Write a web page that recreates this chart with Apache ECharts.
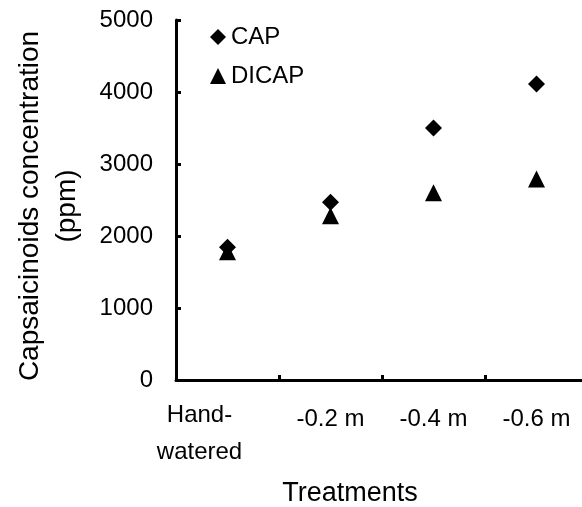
<!DOCTYPE html>
<html><head><meta charset="utf-8">
<script src="https://cdn.jsdelivr.net/npm/echarts@6/dist/echarts.min.js"></script>
<style>html,body{margin:0;padding:0;background:#fff}#c{width:582px;height:507px}</style>
</head><body><div id="c"></div>
<script>
var categories = ['Hand-\nwatered', '-0.2 m', '-0.4 m', '-0.6 m'];
var capValues = [1845, 2470, 3500, 4110];
var dicapValues = [1780, 2280, 2600, 2790];
var yTicks = [0, 1000, 2000, 3000, 4000, 5000];

var FONT = '"Liberation Sans", Arial, sans-serif';
var chart = echarts.init(document.getElementById('c'), null, {renderer: 'canvas'});
chart.setOption({
  animation: false,
  backgroundColor: '#fff',
  textStyle: {fontFamily: FONT, color: '#000'},
  grid: {left: 176, top: 20, width: 412, bottom: 127, containLabel: false, outerBoundsMode: 'none'},
  legend: {
    orient: 'vertical', left: 205, top: 20,
    itemWidth: 16, itemHeight: 16, itemGap: 15,
    textStyle: {fontFamily: FONT, fontSize: 24, color: '#000'},
    data: [{name: 'CAP', icon: 'diamond'}, {name: 'DICAP', icon: 'triangle'}]
  },
  xAxis: {
    type: 'category', data: categories, boundaryGap: true,
    name: 'Treatments', nameLocation: 'middle', nameGap: 100,
    nameTextStyle: {fontFamily: FONT, fontSize: 27, color: '#000', padding: [0, 64, 0, 0]},
    axisLine: {lineStyle: {color: '#000', width: 3}},
    axisTick: {show: true, inside: true, length: 5, lineStyle: {color: '#000', width: 3}},
    axisLabel: {
      interval: 0, margin: 17, color: '#000', fontFamily: FONT, fontSize: 24,
      formatter: function (v) { return v.indexOf('\n') >= 0 ? '{a|' + v.replace('\n', '}\n{a|') + '}' : '{b|' + v + '}'; },
      rich: {
        a: {fontFamily: FONT, fontSize: 24, color: '#000', lineHeight: 37, padding: [0, 56, 0, 0]},
        b: {fontFamily: FONT, fontSize: 24, color: '#000', lineHeight: 37, padding: [8, 0, 0, 0]}
      }
    },
    splitLine: {show: false}
  },
  yAxis: {
    type: 'value', min: yTicks[0], max: yTicks[yTicks.length - 1], interval: 1000,
    name: 'Capsaicinoids concentration\n(ppm)', nameLocation: 'middle', nameRotate: 90, nameGap: 90,
    nameTextStyle: {fontFamily: FONT, fontSize: 28, color: '#000', lineHeight: 37, padding: [0, 12, 0, 0]},
    axisLine: {show: true, lineStyle: {color: '#000', width: 3}},
    axisTick: {show: true, inside: true, length: 5, lineStyle: {color: '#000', width: 3}},
    axisLabel: {margin: 23, color: '#000', fontFamily: FONT, fontSize: 24, formatter: function (v) { return String(v); }},
    splitLine: {show: false}
  },
  series: [
    {name: 'CAP', type: 'scatter', symbol: 'diamond', symbolSize: 17, data: capValues,
     itemStyle: {color: '#000', opacity: 1}, z: 3},
    {name: 'DICAP', type: 'scatter', symbol: 'triangle', symbolSize: 17, data: dicapValues,
     itemStyle: {color: '#000', opacity: 1}, z: 4}
  ]
});
</script></body></html>
